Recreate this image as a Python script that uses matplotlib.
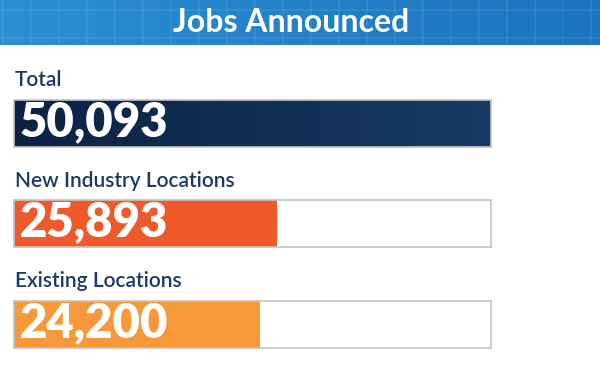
import numpy as np
import matplotlib
matplotlib.use('Agg')
import matplotlib.pyplot as plt
from matplotlib.colors import LinearSegmentedColormap

# Data
title = 'Jobs Announced'
labels = ['Total', 'New Industry Locations', 'Existing Locations']
values = [50093, 25893, 24200]
bar_colors = ['#12315a', '#f05a2b', '#f7993a']
scale_max = 47000  # frame width in jobs (total bar fills the frame)

W, H = 600, 380
fig = plt.figure(figsize=(W / 100, H / 100), dpi=100)
fig.patch.set_facecolor('white')

def px_axes(x0, y0, x1, y1):
    # pixel box (from top-left) -> figure axes
    return fig.add_axes([x0 / W, 1 - y1 / H, (x1 - x0) / W, (y1 - y0) / H])

# Header band with gradient and faint grid
hax = px_axes(0, 0, 600, 45)
grad = np.linspace(0, 1, 256).reshape(1, -1)
hcmap = LinearSegmentedColormap.from_list('hdr', ['#2b8fd2', '#1c74bf'])
hax.imshow(grad, aspect='auto', cmap=hcmap, extent=[0, 600, 45, 0])
for gx in np.arange(3, 600, 28):
    hax.axvline(gx, color='white', alpha=0.07, lw=1.5)
for gy in [10, 38]:
    hax.axhline(gy, color='white', alpha=0.07, lw=1.5)
hax.set_xlim(0, 600)
hax.set_ylim(45, 0)
hax.axis('off')
hax.text(291, 22, title, color='white', fontsize=23, fontweight='bold',
         family=['Lato', 'DejaVu Sans'], ha='center', va='center')

# Bars
bar_boxes = [(100, 147), (200, 247), (301, 348)]
label_base = [86, 187, 287]
grad_cmap = LinearSegmentedColormap.from_list('navy', ['#0b2244', '#173b65'])

for i, (lab, val, col) in enumerate(zip(labels, values, bar_colors)):
    y0, y1 = bar_boxes[i]
    ax = px_axes(14, y0, 491, y1)
    ax.set_xlim(0, scale_max)
    ax.set_ylim(0, 1)
    bar = ax.barh(0.5, val, height=1.0, color=col, edgecolor='none')[0]
    if i == 0:
        im = ax.imshow(grad, aspect='auto', cmap=grad_cmap,
                       extent=[0, min(val, scale_max), 0, 1], zorder=2)
        im.set_clip_path(bar)
        ax.set_xlim(0, scale_max)
        ax.set_ylim(0, 1)
    ax.set_xticks([])
    ax.set_yticks([])
    for s in ax.spines.values():
        s.set_color('#c4c4c4')
        s.set_linewidth(1.2)
    ax.text(0.012, 10.5 / (y1 - y0), f'{val:,}', transform=ax.transAxes,
            color='white', fontsize=34, fontweight='heavy',
            family=['Lato', 'DejaVu Sans'], ha='left', va='baseline', zorder=5)
    fig.text(15 / W, 1 - label_base[i] / H, lab, color='#1c3966',
             fontsize=15, fontweight='semibold', family=['Lato', 'DejaVu Sans'],
             ha='left', va='baseline')

fig.savefig('out.png', dpi=100)
